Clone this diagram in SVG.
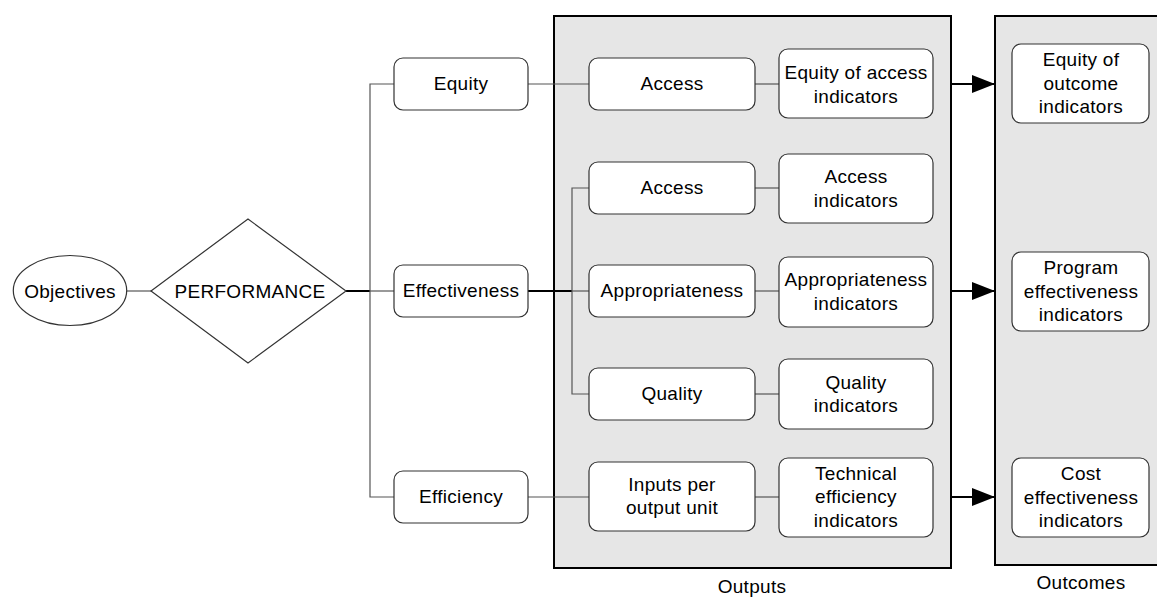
<svg xmlns="http://www.w3.org/2000/svg" width="1157" height="613" viewBox="0 0 1157 613">
<style>
text{font-family:"Liberation Sans",Arial,sans-serif;font-size:19px;fill:#000;text-anchor:middle;letter-spacing:0.3px}
.box{fill:#fff;stroke:#333;stroke-width:1.2}
.cont{fill:#e6e6e6;stroke:#000;stroke-width:2}
.thin{fill:none;stroke:#555;stroke-width:1.2}
.thick{fill:none;stroke:#000;stroke-width:2}
</style>
<defs>
<marker id="arr" viewBox="0 0 10 10" refX="10" refY="5" markerWidth="23" markerHeight="18" markerUnits="userSpaceOnUse" orient="auto" preserveAspectRatio="none"><path d="M0,0 L10,5 L0,10 z" fill="#000"/></marker>
</defs>
<g id="outputs-container"><rect class="cont" x="554" y="16" width="397" height="552"/><text x="752" y="593">Outputs</text></g>
<g id="outcomes-container"><rect class="cont" x="995" y="16" width="170" height="549"/><text x="1081" y="589">Outcomes</text></g>
<g id="connectors">
<line class="thin" x1="127" y1="291" x2="151" y2="291"/>
<line class="thick" x1="346" y1="291" x2="370" y2="291"/>
<line class="thin" x1="370" y1="291" x2="394" y2="291"/>
<polyline class="thin" points="394,84 370,84 370,497 394,497"/>
<line class="thin" x1="528" y1="84" x2="589" y2="84"/>
<line class="thick" x1="528" y1="291" x2="572" y2="291"/>
<line class="thin" x1="572" y1="291" x2="589" y2="291"/>
<polyline class="thin" points="589,188 572,188 572,394 589,394"/>
<line class="thin" x1="528" y1="497" x2="589" y2="497"/>
<line class="thin" x1="755" y1="84" x2="779" y2="84"/>
<line class="thin" x1="755" y1="188" x2="779" y2="188"/>
<line class="thin" x1="755" y1="291" x2="779" y2="291"/>
<line class="thin" x1="755" y1="394" x2="779" y2="394"/>
<line class="thin" x1="755" y1="497" x2="779" y2="497"/>
<line class="thick" x1="951" y1="84" x2="995" y2="84" marker-end="url(#arr)"/>
<line class="thick" x1="951" y1="291" x2="995" y2="291" marker-end="url(#arr)"/>
<line class="thick" x1="951" y1="497" x2="995" y2="497" marker-end="url(#arr)"/>
</g>
<g id="objectives"><ellipse class="box" cx="70" cy="290.5" rx="56.7" ry="35"/><text x="70" y="297.5">Objectives</text></g>
<g id="performance"><polygon class="box" points="151,291 248,219 346,291 248,363"/><text x="250" y="297.5">PERFORMANCE</text></g>
<g id="equity"><rect class="box" x="394" y="58" width="134" height="52" rx="9"/><text x="461" y="90">Equity</text></g>
<g id="effectiveness"><rect class="box" x="394" y="265" width="134" height="52" rx="9"/><text x="461" y="297">Effectiveness</text></g>
<g id="efficiency"><rect class="box" x="394" y="471" width="134" height="52" rx="9"/><text x="461" y="503">Efficiency</text></g>
<g id="access1"><rect class="box" x="589" y="58" width="166" height="52" rx="9"/><text x="672" y="90">Access</text></g>
<g id="access2"><rect class="box" x="589" y="162" width="166" height="52" rx="9"/><text x="672" y="194">Access</text></g>
<g id="appropriateness"><rect class="box" x="589" y="265" width="166" height="52" rx="9"/><text x="672" y="297">Appropriateness</text></g>
<g id="quality"><rect class="box" x="589" y="368" width="166" height="52" rx="9"/><text x="672" y="400">Quality</text></g>
<g id="inputs"><rect class="box" x="589" y="462" width="166" height="69" rx="9"/><text x="672" y="491">Inputs per</text><text x="672" y="514">output unit</text></g>
<g id="equity-access-ind"><rect class="box" x="779" y="49" width="154" height="69" rx="9"/><text x="856" y="79">Equity of access</text><text x="856" y="102.5">indicators</text></g>
<g id="access-ind"><rect class="box" x="779" y="154" width="154" height="69" rx="9"/><text x="856" y="183">Access</text><text x="856" y="206.5">indicators</text></g>
<g id="appropriateness-ind"><rect class="box" x="779" y="257" width="154" height="70" rx="9"/><text x="856" y="286">Appropriateness</text><text x="856" y="309.5">indicators</text></g>
<g id="quality-ind"><rect class="box" x="779" y="359" width="154" height="70" rx="9"/><text x="856" y="388.5">Quality</text><text x="856" y="412">indicators</text></g>
<g id="technical-ind"><rect class="box" x="779" y="458" width="154" height="79" rx="9"/><text x="856" y="479.5">Technical</text><text x="856" y="503">efficiency</text><text x="856" y="526.5">indicators</text></g>
<g id="equity-outcome-ind"><rect class="box" x="1012" y="44" width="137" height="79" rx="9"/><text x="1081" y="66">Equity of</text><text x="1081" y="89.5">outcome</text><text x="1081" y="113">indicators</text></g>
<g id="program-eff-ind"><rect class="box" x="1012" y="252" width="137" height="79" rx="9"/><text x="1081" y="274">Program</text><text x="1081" y="297.5">effectiveness</text><text x="1081" y="321">indicators</text></g>
<g id="cost-eff-ind"><rect class="box" x="1012" y="458" width="137" height="79" rx="9"/><text x="1081" y="480">Cost</text><text x="1081" y="503.5">effectiveness</text><text x="1081" y="527">indicators</text></g>
</svg>
